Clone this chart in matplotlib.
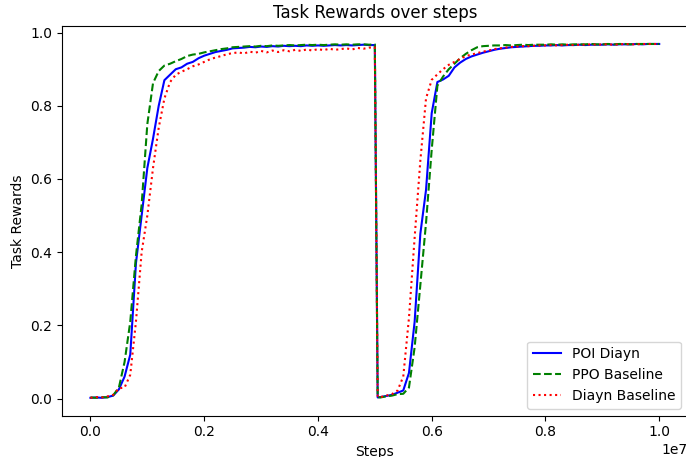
import numpy as np
import matplotlib
matplotlib.use("Agg")
import matplotlib.pyplot as plt

# steps in units of 1e6 (first task, then second task after the switch at 5e6)
steps_first = [0.0, 0.1, 0.2, 0.3, 0.4, 0.5, 0.6, 0.7, 0.8, 0.9,
               1.0, 1.1, 1.2, 1.3, 1.4, 1.5, 1.6, 1.7, 1.8, 1.9,
               2.0, 2.1, 2.2, 2.3, 2.4, 2.5, 2.6, 2.7, 2.8, 2.9,
               3.0, 3.1, 3.2, 3.3, 3.4, 3.5, 3.6, 3.7, 3.8, 3.9,
               4.0, 4.1, 4.2, 4.3, 4.4, 4.5, 4.6, 4.7, 4.8, 4.9, 5.0]
steps_second = [5.05, 5.1, 5.2, 5.3, 5.4, 5.5, 5.6, 5.7, 5.8, 5.9,
                6.0, 6.1, 6.2, 6.3, 6.4, 6.5, 6.6, 6.7, 6.8, 6.9,
                7.0, 7.1, 7.2, 7.3, 7.4, 7.5, 7.6, 7.7, 7.8, 7.9,
                8.0, 8.1, 8.2, 8.3, 8.4, 8.5, 8.6, 8.7, 8.8, 8.9,
                9.0, 9.1, 9.2, 9.3, 9.4, 9.5, 9.6, 9.7, 9.8, 9.9, 10.0]

poi_first = [0.002, 0.003, 0.002, 0.004, 0.008, 0.025, 0.06, 0.12, 0.37, 0.50,
             0.63, 0.71, 0.80, 0.87, 0.885, 0.90, 0.905, 0.915, 0.92, 0.93,
             0.937, 0.942, 0.947, 0.950, 0.953, 0.957, 0.958, 0.959, 0.961, 0.960,
             0.962, 0.961, 0.963, 0.962, 0.964, 0.963, 0.964, 0.963, 0.965, 0.964,
             0.965, 0.964, 0.965, 0.966, 0.965, 0.966, 0.965, 0.966, 0.967, 0.966, 0.966]
poi_second = [0.003, 0.004, 0.007, 0.010, 0.016, 0.022, 0.07, 0.21, 0.45, 0.57,
              0.78, 0.865, 0.872, 0.882, 0.905, 0.918, 0.928, 0.935, 0.940, 0.945,
              0.949, 0.953, 0.956, 0.958, 0.960, 0.961, 0.962, 0.963, 0.964, 0.964,
              0.965, 0.965, 0.966, 0.965, 0.966, 0.966, 0.967, 0.966, 0.967, 0.967,
              0.967, 0.968, 0.967, 0.968, 0.968, 0.968, 0.969, 0.968, 0.969, 0.969, 0.969]

ppo_first = [0.003, 0.002, 0.004, 0.003, 0.009, 0.03, 0.10, 0.21, 0.39, 0.53,
             0.75, 0.862, 0.895, 0.91, 0.915, 0.922, 0.928, 0.936, 0.94, 0.942,
             0.946, 0.949, 0.952, 0.955, 0.957, 0.960, 0.961, 0.962, 0.963, 0.962,
             0.964, 0.963, 0.965, 0.964, 0.965, 0.966, 0.965, 0.966, 0.967, 0.966,
             0.967, 0.966, 0.967, 0.968, 0.967, 0.968, 0.967, 0.968, 0.968, 0.967, 0.968]
ppo_second = [0.004, 0.003, 0.006, 0.008, 0.012, 0.013, 0.03, 0.14, 0.31, 0.48,
              0.68, 0.855, 0.88, 0.90, 0.915, 0.93, 0.942, 0.952, 0.96, 0.963,
              0.964, 0.965, 0.965, 0.966, 0.965, 0.966, 0.967, 0.966, 0.967, 0.967,
              0.967, 0.968, 0.967, 0.968, 0.967, 0.968, 0.968, 0.968, 0.969, 0.968,
              0.968, 0.969, 0.968, 0.969, 0.969, 0.968, 0.969, 0.969, 0.969, 0.969, 0.969]

diayn_first = [0.002, 0.004, 0.003, 0.006, 0.010, 0.028, 0.030, 0.065, 0.21, 0.40,
               0.50, 0.63, 0.74, 0.82, 0.865, 0.885, 0.893, 0.90, 0.908, 0.913,
               0.92, 0.927, 0.932, 0.936, 0.941, 0.944, 0.946, 0.943, 0.948, 0.945,
               0.950, 0.946, 0.951, 0.947, 0.952, 0.949, 0.953, 0.950, 0.954, 0.951,
               0.955, 0.952, 0.956, 0.953, 0.955, 0.957, 0.954, 0.958, 0.956, 0.959, 0.960]
diayn_second = [0.005, 0.004, 0.008, 0.012, 0.022, 0.06, 0.22, 0.44, 0.65, 0.82,
                0.871, 0.886, 0.90, 0.912, 0.92, 0.928, 0.936, 0.94, 0.944, 0.948,
                0.951, 0.955, 0.957, 0.959, 0.961, 0.962, 0.963, 0.963, 0.964, 0.965,
                0.965, 0.966, 0.965, 0.966, 0.967, 0.966, 0.967, 0.967, 0.968, 0.967,
                0.968, 0.968, 0.967, 0.968, 0.969, 0.968, 0.968, 0.969, 0.969, 0.969, 0.969]

steps = np.array(steps_first + steps_second) * 1e6
poi = poi_first + poi_second
ppo = ppo_first + ppo_second
diayn = diayn_first + diayn_second

fig = plt.figure(figsize=(6.86, 4.57), dpi=100)
ax = fig.add_axes([0.0904, 0.0908, 0.912, 0.8517])

ax.plot(steps, poi, 'b-', lw=1.5, label='POI Diayn')
ax.plot(steps, ppo, 'g--', lw=1.5, label='PPO Baseline')
ax.plot(steps, diayn, 'r:', lw=1.5, label='Diayn Baseline')

ax.set_title('Task Rewards over steps')
ax.set_xlabel('Steps')
ax.set_ylabel('Task Rewards')
ax.legend(loc='lower right')

fig.savefig('out.png', dpi=100)
